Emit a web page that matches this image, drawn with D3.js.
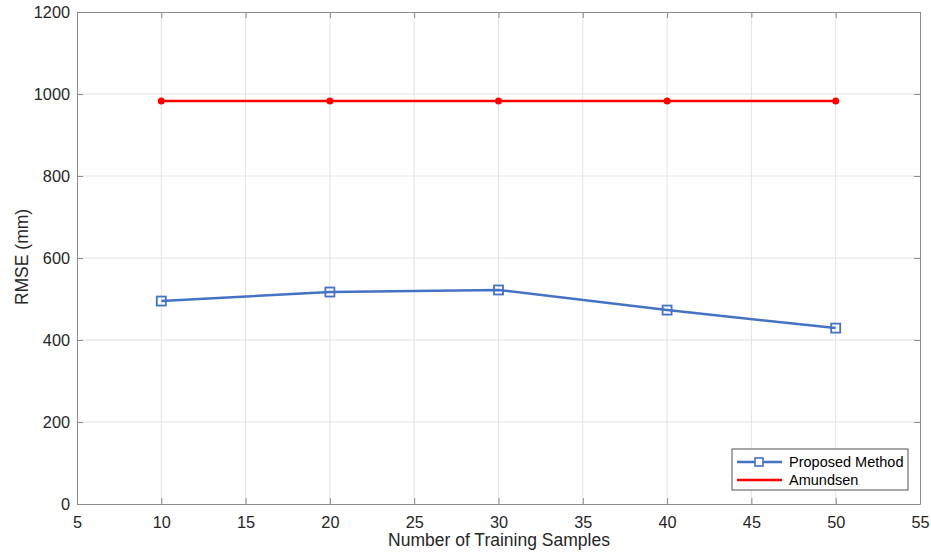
<!DOCTYPE html>
<html>
<head>
<meta charset="utf-8">
<style>
  body { margin: 0; background: #fff; }
  svg { font-family: "Liberation Sans", Arial, sans-serif; }
  .grid line { stroke: #e3e3e3; stroke-width: 1; }
  .axis path, .axis line { stroke: #8c8c8c; }
  .axis text { fill: #262626; font-size: 16.3px; }
</style>
</head>
<body>
<svg id="chart" width="931" height="557"></svg>
<script src="https://cdn.jsdelivr.net/npm/d3@7"></script>
<script>
var samples = [10, 20, 30, 40, 50];
var proposed = [495, 517, 522, 473, 429];
var amundsen = [983, 983, 983, 983, 983];
var xTicks = [5, 10, 15, 20, 25, 30, 35, 40, 45, 50, 55];
var yTicks = [0, 200, 400, 600, 800, 1000, 1200];

var svg = d3.select("#chart");
var mLeft = 77, mRight = 920, mTop = 12, mBottom = 504;

var x = d3.scaleLinear().domain([5, 55]).range([mLeft, mRight]);
var y = d3.scaleLinear().domain([0, 1200]).range([mBottom, mTop]);

// grid
var grid = svg.append("g").attr("class", "grid");
grid.selectAll(".gx").data(xTicks.slice(1, -1)).enter().append("line")
  .attr("x1", d => x(d)).attr("x2", d => x(d))
  .attr("y1", mTop).attr("y2", mBottom);
grid.selectAll(".gy").data(yTicks.slice(1, -1)).enter().append("line")
  .attr("x1", mLeft).attr("x2", mRight)
  .attr("y1", d => y(d)).attr("y2", d => y(d));

// axes (box with inner ticks)
svg.append("g").attr("class", "axis")
  .attr("transform", "translate(0," + mBottom + ")")
  .call(d3.axisBottom(x).tickValues(xTicks).tickSizeInner(-6).tickSizeOuter(0).tickPadding(12));
svg.append("g").attr("class", "axis")
  .attr("transform", "translate(0," + mTop + ")")
  .call(d3.axisTop(x).tickValues(xTicks).tickSizeInner(-6).tickSizeOuter(0).tickFormat(""));
svg.append("g").attr("class", "axis")
  .attr("transform", "translate(" + mLeft + ",0)")
  .call(d3.axisLeft(y).tickValues(yTicks).tickFormat(d3.format("d")).tickSizeInner(-6).tickSizeOuter(0).tickPadding(7));
svg.append("g").attr("class", "axis")
  .attr("transform", "translate(" + mRight + ",0)")
  .call(d3.axisRight(y).tickValues(yTicks).tickSizeInner(-6).tickSizeOuter(0).tickFormat(""));

// axis labels
svg.append("text")
  .attr("x", 499).attr("y", 546)
  .attr("text-anchor", "middle").attr("font-size", 17.5).attr("fill", "#262626")
  .text("Number of Training Samples");
svg.append("text")
  .attr("transform", "translate(28,257) rotate(-90)")
  .attr("text-anchor", "middle").attr("font-size", 17.5).attr("fill", "#262626")
  .text("RMSE (mm)");

var line = d3.line().x(d => x(d[0])).y(d => y(d[1]));
var blue = "#4472c4", red = "#ff0000";

// Amundsen
svg.append("path")
  .datum(d3.zip(samples, amundsen))
  .attr("d", line).attr("fill", "none").attr("stroke", red).attr("stroke-width", 2.5);
svg.selectAll(".am").data(d3.zip(samples, amundsen)).enter().append("circle")
  .attr("cx", d => x(d[0])).attr("cy", d => y(d[1])).attr("r", 3.5).attr("fill", red);

// Proposed
svg.append("path")
  .datum(d3.zip(samples, proposed))
  .attr("d", line).attr("fill", "none").attr("stroke", blue).attr("stroke-width", 2.5);
svg.selectAll(".pm").data(d3.zip(samples, proposed)).enter().append("rect")
  .attr("x", d => x(d[0]) - 4.5).attr("y", d => y(d[1]) - 4.5)
  .attr("width", 9).attr("height", 9)
  .attr("fill", "none").attr("stroke", blue).attr("stroke-width", 1.8);

// legend
var lg = svg.append("g").attr("transform", "translate(732,449)");
lg.append("rect").attr("width", 176).attr("height", 41)
  .attr("fill", "#fff").attr("stroke", "#262626").attr("stroke-width", 0.8);
lg.append("line").attr("x1", 5).attr("x2", 50).attr("y1", 13).attr("y2", 13)
  .attr("stroke", blue).attr("stroke-width", 2.5);
lg.append("rect").attr("x", 23).attr("y", 9).attr("width", 8).attr("height", 8)
  .attr("fill", "#fff").attr("stroke", blue).attr("stroke-width", 1.6);
lg.append("line").attr("x1", 5).attr("x2", 50).attr("y1", 31).attr("y2", 31)
  .attr("stroke", red).attr("stroke-width", 2.5);
lg.append("text").attr("x", 57).attr("y", 18).attr("font-size", 14.5).attr("fill", "#000")
  .text("Proposed Method");
lg.append("text").attr("x", 57).attr("y", 36).attr("font-size", 14.5).attr("fill", "#000")
  .text("Amundsen");
</script>
</body>
</html>
